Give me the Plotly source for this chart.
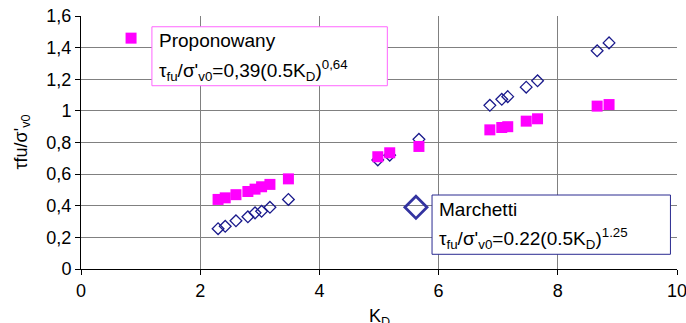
import plotly.graph_objects as go

# data
kd = [2.3, 2.42, 2.6, 2.8, 2.92, 3.03, 3.17, 3.48, 4.98, 5.18, 5.67,
      6.86, 7.06, 7.16, 7.47, 7.66, 8.66, 8.86]
proponowany = [0.44, 0.45, 0.47, 0.49, 0.505, 0.52, 0.535, 0.57, 0.71, 0.735, 0.775,
               0.88, 0.895, 0.90, 0.935, 0.95, 1.03, 1.04]
marchetti = [0.255, 0.27, 0.305, 0.33, 0.355, 0.365, 0.39, 0.44, 0.69, 0.72, 0.82,
             1.035, 1.073, 1.09, 1.15, 1.19, 1.38, 1.43]

legend_prop_xy = (0.84, 1.46)
legend_march_xy = (5.62, 0.39)

xticks = [0, 2, 4, 6, 8, 10]
yticks = [0, 0.2, 0.4, 0.6, 0.8, 1.0, 1.2, 1.4, 1.6]
yticklabels = ["0", "0,2", "0,4", "0,6", "0,8", "1", "1,2", "1,4", "1,6"]

FONT = "Liberation Sans, Arial, sans-serif"
PINK = "#ff00ff"
NAVY = "#1a1a8c"

fig = go.Figure()
fig.add_trace(go.Scatter(x=kd, y=marchetti, mode="markers",
                         marker=dict(symbol="diamond-open", size=9, color=NAVY,
                                     line=dict(width=1.3, color=NAVY))))
fig.add_trace(go.Scatter(x=kd, y=proponowany, mode="markers",
                         marker=dict(symbol="square", size=11, color=PINK)))

# label boxes
fig.add_shape(type="rect", x0=1.19, x1=5.14, y0=1.159, y1=1.532, xref="x", yref="y",
              line=dict(color="#ff66ff", width=1), fillcolor="white", layer="above")
fig.add_shape(type="rect", x0=5.89, x1=9.89, y0=0.093, y1=0.468, xref="x", yref="y",
              line=dict(color="#2a2a90", width=1), fillcolor="white", layer="above")

fig.add_trace(go.Scatter(x=[legend_prop_xy[0]], y=[legend_prop_xy[1]], mode="markers",
                         marker=dict(symbol="square", size=11, color=PINK)))
fig.add_trace(go.Scatter(x=[legend_march_xy[0]], y=[legend_march_xy[1]], mode="markers",
                         marker=dict(symbol="diamond-open", size=17, color="#3333a0",
                                     line=dict(width=2.8, color="#3333a0"))))

anns = [
    dict(x=1.27, y=1.444, text="Proponowany"),
    dict(x=1.27, y=1.255, text="τ<sub>fu</sub>/σ'<sub>v0</sub>=0,39(0.5K<sub>D</sub>)<sup>0,64</sup>"),
    dict(x=5.97, y=0.379, text="Marchetti"),
    dict(x=5.97, y=0.192, text="τ<sub>fu</sub>/σ'<sub>v0</sub>=0.22(0.5K<sub>D</sub>)<sup>1.25</sup>"),
]
for a in anns:
    fig.add_annotation(x=a["x"], y=a["y"], text=a["text"], xref="x", yref="y",
                       xanchor="left", yanchor="middle", showarrow=False,
                       font=dict(family=FONT, size=19, color="black"))

# axis titles
fig.add_annotation(x=0, y=0.5, xref="paper", yref="paper", xshift=-59,
                   text="τfu/σ'<sub>v0</sub>", textangle=-90, showarrow=False,
                   xanchor="center", yanchor="middle",
                   font=dict(family=FONT, size=18, color="black"))
fig.add_annotation(x=0.5, y=0, xref="paper", yref="paper", yshift=-48,
                   text="K<sub>D</sub>", showarrow=False,
                   xanchor="center", yanchor="middle",
                   font=dict(family=FONT, size=18, color="black"))

fig.update_layout(
    width=686, height=323,
    margin=dict(l=81, r=9, t=16, b=54),
    paper_bgcolor="white", plot_bgcolor="white",
    showlegend=False,
    font=dict(family=FONT, size=18, color="black"),
)
fig.update_xaxes(range=[0, 10], tickvals=xticks, ticktext=[str(v) for v in xticks],
                 showgrid=True, gridcolor="#808080", gridwidth=1,
                 showline=True, linecolor="black", linewidth=1,
                 ticks="outside", ticklen=5, tickcolor="black",
                 zeroline=False, automargin=False, ticklabeloverflow="allow",
                 tickfont=dict(family=FONT, size=18))
fig.update_yaxes(range=[0, 1.6], tickvals=yticks, ticktext=yticklabels,
                 showgrid=True, gridcolor="#808080", gridwidth=1,
                 showline=True, linecolor="black", linewidth=1,
                 ticks="outside", ticklen=5, tickcolor="black",
                 zeroline=False, automargin=False, ticklabeloverflow="allow",
                 tickfont=dict(family=FONT, size=18))

fig.write_html("out.html", config={"displayModeBar": False},
               post_script="document.body.style.margin='0';")
